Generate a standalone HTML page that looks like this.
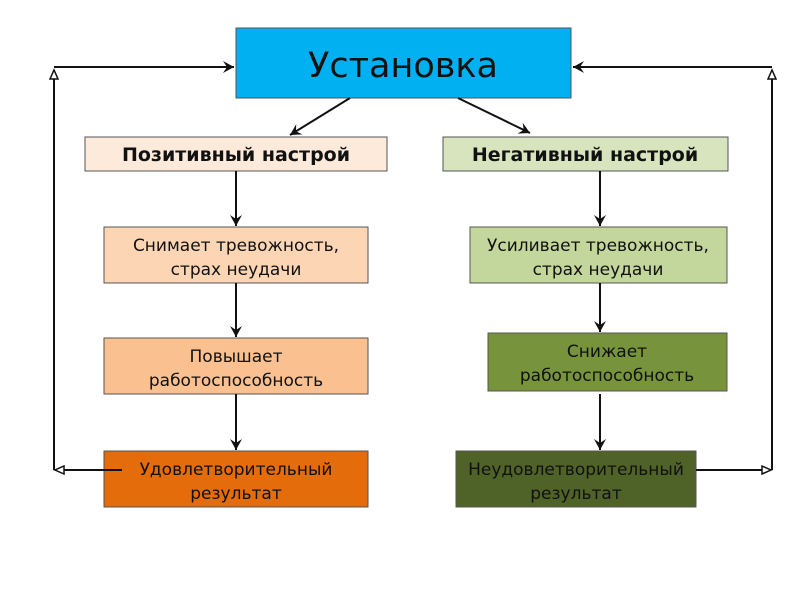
<!DOCTYPE html>
<html><head><meta charset="utf-8"><style>
html,body{margin:0;padding:0;background:#fff;width:800px;height:600px;overflow:hidden}
svg{display:block}
text{font-family:"DejaVu Sans","Liberation Sans",sans-serif;fill:#111}
</style></head><body>
<svg width="800" height="600" viewBox="0 0 800 600">
<defs>
<marker id="f" markerWidth="12" markerHeight="12" refX="11" refY="6" orient="auto" markerUnits="userSpaceOnUse">
<path d="M0,0 L11,6 L0,12 L4,6 Z" fill="#111"/></marker>
<marker id="o" markerWidth="12" markerHeight="10" refX="10" refY="5" orient="auto" markerUnits="userSpaceOnUse">
<path d="M1,1 L10,5 L1,9 Z" fill="#fff" stroke="#111" stroke-width="1.5"/></marker>
</defs>
<g stroke="#555" stroke-width="1">
<rect x="236" y="28" width="335" height="70" fill="#00b0f0"/>
<rect x="85" y="137" width="302" height="34" fill="#fdeada"/>
<rect x="443" y="137" width="285" height="34" fill="#d7e4bd"/>
<rect x="104" y="227" width="264" height="56" fill="#fcd5b5"/>
<rect x="470" y="227" width="257" height="56" fill="#c3d69b"/>
<rect x="104" y="338" width="264" height="56" fill="#fac090"/>
<rect x="488" y="333" width="239" height="58" fill="#77933c"/>
<rect x="104" y="451" width="264" height="56" fill="#e46c0a"/>
<rect x="456" y="451" width="240" height="56" fill="#4f6228"/>
</g>
<g stroke="#111" stroke-width="2" fill="none">
<line x1="350" y1="98" x2="290" y2="135" marker-end="url(#f)"/>
<line x1="458" y1="98" x2="530" y2="133" marker-end="url(#f)"/>
<line x1="236" y1="171" x2="236" y2="226" marker-end="url(#f)"/>
<line x1="236" y1="283" x2="236" y2="337" marker-end="url(#f)"/>
<line x1="236" y1="394" x2="236" y2="450" marker-end="url(#f)"/>
<line x1="600" y1="171" x2="600" y2="226" marker-end="url(#f)"/>
<line x1="600" y1="283" x2="600" y2="332" marker-end="url(#f)"/>
<line x1="600" y1="394" x2="600" y2="450" marker-end="url(#f)"/>
<line x1="122" y1="470" x2="55" y2="470" marker-end="url(#o)"/>
<line x1="54" y1="470" x2="54" y2="70" marker-end="url(#o)"/>
<line x1="54" y1="67" x2="234" y2="67" marker-end="url(#f)"/>
<line x1="696" y1="470" x2="771" y2="470" marker-end="url(#o)"/>
<line x1="772" y1="470" x2="772" y2="70" marker-end="url(#o)"/>
<line x1="772" y1="67" x2="573" y2="67" marker-end="url(#f)"/>
</g>
<text x="403" y="77" font-size="35" text-anchor="middle">Установка</text>
<text x="236" y="161" font-size="19" font-weight="bold" text-anchor="middle">Позитивный настрой</text>
<text x="585" y="161" font-size="19" font-weight="bold" text-anchor="middle">Негативный настрой</text>
<g font-size="17" text-anchor="middle">
<text x="236" y="251">Снимает тревожность,</text><text x="236" y="275">страх неудачи</text>
<text x="598" y="251">Усиливает тревожность,</text><text x="598" y="275">страх неудачи</text>
<text x="236" y="362">Повышает</text><text x="236" y="386">работоспособность</text>
<text x="607" y="357">Снижает</text><text x="607" y="381">работоспособность</text>
<text x="236" y="475">Удовлетворительный</text><text x="236" y="499">результат</text>
<text x="576" y="475">Неудовлетворительный</text><text x="576" y="499">результат</text>
</g>
</svg>
</body></html>
